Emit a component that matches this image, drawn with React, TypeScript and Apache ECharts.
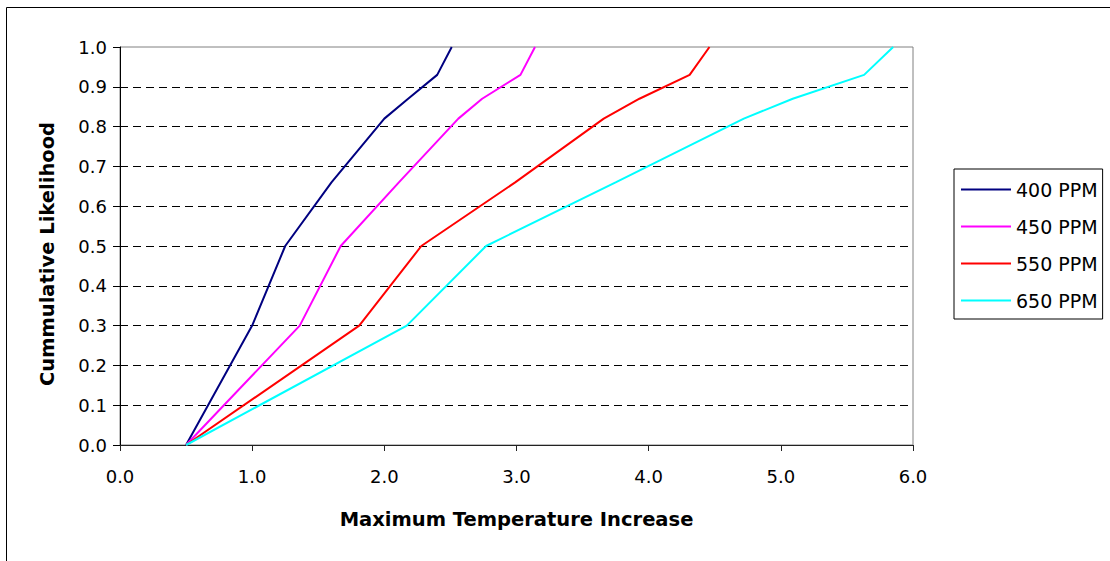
import React, { useEffect, useRef } from "react";
import * as echarts from "echarts";

const seriesNames = ["400 PPM", "450 PPM", "550 PPM", "650 PPM"];
const likelihood = [0, 0.3, 0.5, 0.66, 0.82, 0.87, 0.93, 1.0];
const temp400 = [0.5, 1.0, 1.25, 1.6, 2.0, 2.18, 2.4, 2.51];
const temp450 = [0.5, 1.36, 1.67, 2.11, 2.56, 2.74, 3.03, 3.14];
const temp550 = [0.5, 1.81, 2.28, 2.99, 3.66, 3.93, 4.31, 4.46];
const temp650 = [0.5, 2.17, 2.77, 3.75, 4.72, 5.09, 5.63, 5.85];
const colors = ["#000080", "#FF00FF", "#FF0000", "#00FFFF"];
const xTicks = [0, 1, 2, 3, 4, 5, 6];
const yTicks = [0, 0.1, 0.2, 0.3, 0.4, 0.5, 0.6, 0.7, 0.8, 0.9, 1.0];

const FONT = "DejaVu Sans";

export default function App() {
  const ref = useRef<HTMLDivElement>(null);
  useEffect(() => {
    if (!ref.current) return;
    const chart = echarts.init(ref.current, undefined, { renderer: "svg" });
    const temps = [temp400, temp450, temp550, temp650];
    chart.setOption({
      animation: false,
      backgroundColor: "#ffffff",
      textStyle: { fontFamily: FONT },
      graphic: [
        {
          type: "rect",
          shape: { x: 6.5, y: 7.5, width: 1300, height: 700 },
          style: { fill: "none", stroke: "#000", lineWidth: 1 },
          silent: true,
          z: -10,
        },
      ],
      grid: {
        left: 120,
        top: 47,
        width: 793,
        height: 398,
        show: true,
        borderColor: "#808080",
        borderWidth: 1,
        backgroundColor: "transparent",
      },
      legend: {
        orient: "vertical",
        left: 954,
        top: 169,
        padding: [11, 5, 9, 7],
        borderColor: "#000",
        borderWidth: 1,
        itemWidth: 50,
        itemHeight: 20,
        itemGap: 18,
        icon: "path://M0,9 L50,9 L50,11 L0,11 Z",
        textStyle: { fontFamily: FONT, fontSize: 19, color: "#000" },
        data: seriesNames,
      },
      xAxis: {
        type: "value",
        min: xTicks[0],
        max: xTicks[xTicks.length - 1],
        interval: 1,
        name: "Maximum Temperature Increase",
        nameLocation: "middle",
        nameGap: 64,
        nameTextStyle: { fontFamily: FONT, fontSize: 19.5, fontWeight: "bold", color: "#000" },
        axisLine: { onZero: false, lineStyle: { color: "#222", width: 1 } },
        axisTick: { show: true, length: 6, lineStyle: { color: "#222" } },
        axisLabel: {
          margin: 22,
          fontFamily: FONT,
          fontSize: 18,
          color: "#000",
          formatter: (v: number) => v.toFixed(1),
        },
        splitLine: { show: false },
      },
      yAxis: {
        type: "value",
        min: yTicks[0],
        max: yTicks[yTicks.length - 1],
        interval: 0.1,
        name: "Cummulative Likelihood",
        nameLocation: "middle",
        nameGap: 63,
        nameRotate: 90,
        nameTextStyle: {
          fontFamily: FONT,
          fontSize: 19.5,
          fontWeight: "bold",
          color: "#000",
          padding: [0, 16, 0, 0],
        },
        axisLine: { show: true, lineStyle: { color: "#000", width: 1 } },
        axisTick: { show: true, length: 7, lineStyle: { color: "#000" } },
        axisLabel: {
          margin: 13,
          fontFamily: FONT,
          fontSize: 18,
          color: "#000",
          formatter: (v: number) => v.toFixed(1),
        },
        splitLine: {
          show: true,
          showMinLine: false,
          showMaxLine: false,
          lineStyle: { color: "#000", type: [8, 5], width: 1 },
        },
      },
      series: seriesNames.map((name, i) => ({
        name,
        type: "line",
        data: temps[i].map((t, j) => [t, likelihood[j]]),
        symbol: "none",
        lineStyle: { color: colors[i], width: 2 },
        itemStyle: { color: colors[i] },
      })),
    });
    return () => chart.dispose();
  }, []);
  return (
    <div
      ref={ref}
      style={{ position: "absolute", left: 0, top: 0, width: 1110, height: 561 }}
    />
  );
}
